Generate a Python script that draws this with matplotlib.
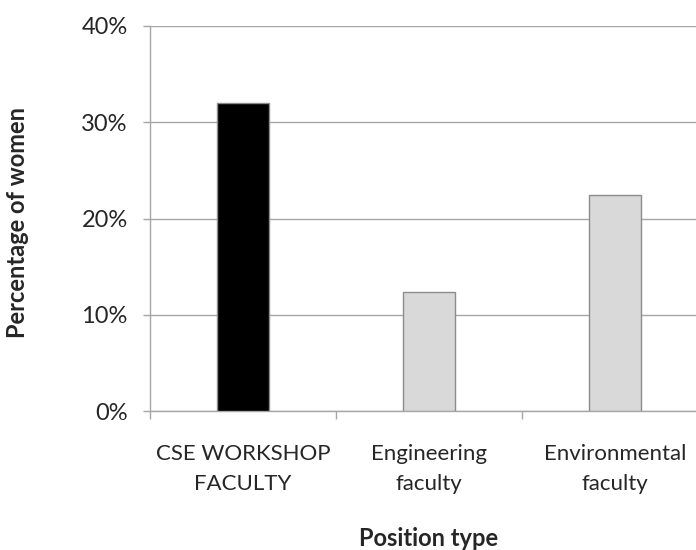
import matplotlib
matplotlib.use("Agg")
import matplotlib.pyplot as plt
import matplotlib.ticker as ticker

# ── Data ──
categories = ['CSE WORKSHOP\nFACULTY', 'Engineering\nfaculty', 'Environmental\nfaculty']
pct_women = [32.0, 12.4, 22.4]
bar_colors = ['#000000', '#D9D9D9', '#D9D9D9']

GRID = '#A6A6A6'
EDGE = '#8C8C8C'
TEXT = '#262626'

plt.rcParams['font.family'] = ['Lato', 'DejaVu Sans']

fig = plt.figure(figsize=(6.96, 5.5), dpi=100, facecolor='white')
ax = fig.add_axes([150 / 696, 1 - 411 / 550, 558 / 696, 385 / 550])

x = range(len(categories))
ax.bar(x, pct_women, width=0.275, color=bar_colors, edgecolor=EDGE,
       linewidth=1.0, zorder=3)

ax.set_xlim(-0.5, len(categories) - 0.5)
ax.set_ylim(0, 40)
ax.yaxis.set_major_locator(ticker.MultipleLocator(10))
ax.yaxis.set_major_formatter(ticker.FuncFormatter(lambda v, p: f'{v:.0f}%'))
ax.grid(axis='y', color=GRID, linewidth=1.0, zorder=0)
ax.set_axisbelow(True)

for s in ['top', 'right']:
    ax.spines[s].set_visible(False)
for s in ['left', 'bottom']:
    ax.spines[s].set_color(GRID)
    ax.spines[s].set_linewidth(1.0)

ax.set_xticks(list(x))
ax.set_xticklabels(categories, fontsize=16, color=TEXT, linespacing=1.6)
ax.set_xticks([i + 0.5 for i in range(-1, len(categories))], minor=True)
ax.tick_params(axis='x', which='major', length=0, pad=24)
ax.tick_params(axis='x', which='minor', length=5.5, color=GRID, width=1.0)
ax.tick_params(axis='y', length=5, color=GRID, width=1.0, labelsize=17,
               labelcolor=TEXT, pad=11)

ax.set_xlabel('Position type', fontsize=17, fontweight='bold', color=TEXT,
              va='center')
ax.xaxis.set_label_coords(0.5, (411 - 539) / 385)
ax.set_ylabel('Percentage of women', fontsize=17, fontweight='bold', color=TEXT,
              va='center')
ax.yaxis.set_label_coords((18 - 150) / 558, 0.49)

plt.savefig('out.png', dpi=100, facecolor='white')
